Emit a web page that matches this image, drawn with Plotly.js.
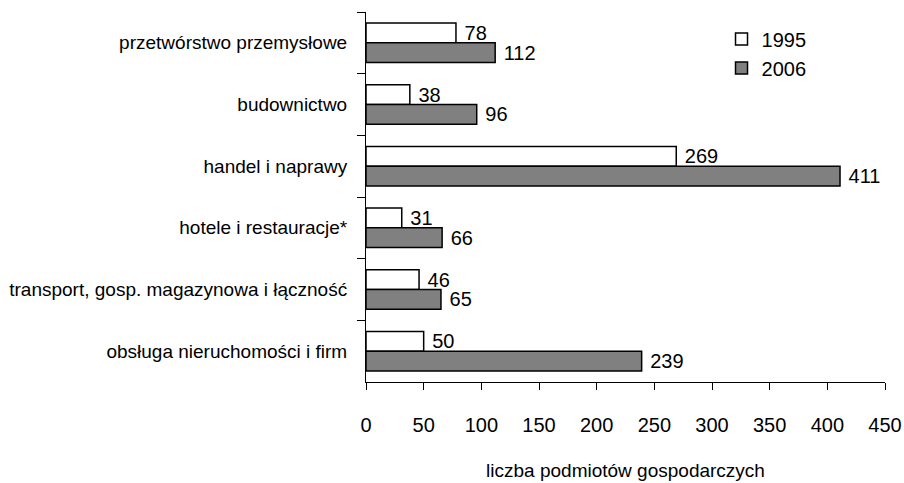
<!DOCTYPE html>
<html>
<head>
<meta charset="utf-8">
<script src="https://cdn.plot.ly/plotly-3.0.1.min.js"></script>
<style>html,body{margin:0;padding:0;background:#fff;}#chart{width:904px;height:483px;}</style>
</head>
<body>
<div id="chart"></div>
<script>
const categories = [
  "przetwórstwo przemysłowe",
  "budownictwo",
  "handel i naprawy",
  "hotele i restauracje*",
  "transport, gosp. magazynowa i łączność",
  "obsługa nieruchomości i firm"
];
const values1995 = [78, 38, 269, 31, 46, 50];
const values2006 = [112, 96, 411, 66, 65, 239];
const seriesNames = ["1995", "2006"];
const xTicks = [0, 50, 100, 150, 200, 250, 300, 350, 400, 450];

const FONT = "'Liberation Sans', Arial, sans-serif";
const FS = 19;

const traces = [
  {
    type: "bar", orientation: "h", name: seriesNames[0],
    y: categories, x: values1995,
    texttemplate: " %{x}", textposition: "outside", constraintext: "none",
    textfont: {family: FONT, size: 20, color: "#000"},
    cliponaxis: false,
    marker: {color: "#ffffff", line: {color: "#000", width: 1.5}}
  },
  {
    type: "bar", orientation: "h", name: seriesNames[1],
    y: categories, x: values2006,
    texttemplate: " %{x}", textposition: "outside", constraintext: "none",
    textfont: {family: FONT, size: 20, color: "#000"},
    cliponaxis: false,
    marker: {color: "#808080", line: {color: "#000", width: 1.5}}
  }
];

const layout = {
  width: 904, height: 483,
  margin: {l: 366, r: 19, t: 12, b: 101, pad: 0},
  paper_bgcolor: "#fff", plot_bgcolor: "#fff",
  font: {family: FONT, size: FS, color: "#000"},
  barmode: "group", bargap: 0.36, bargroupgap: 0,
  showlegend: true,
  legend: {x: 0.685, y: 0.98, xanchor: "left", yanchor: "top", bgcolor: "rgba(0,0,0,0)",
           font: {family: FONT, size: 20}, itemwidth: 30, tracegroupgap: 0},
  xaxis: {
    range: [0, 450], tickvals: xTicks, ticktext: xTicks.map(String),
    showgrid: false, zeroline: false, showline: true, linecolor: "#000", linewidth: 1,
    ticks: "outside", ticklen: 7, tickcolor: "#000", ticklabelstandoff: 18,
    tickfont: {family: FONT, size: 20},
    title: {text: "liczba podmiotów gospodarczych", font: {family: FONT, size: FS}, standoff: 28}
  },
  yaxis: {
    type: "category", autorange: "reversed",
    showgrid: false, zeroline: false, showline: true, linecolor: "#000", linewidth: 1,
    ticks: "outside", ticklen: 8, tickcolor: "#000", tickson: "boundaries",
    ticklabelstandoff: 14,
    tickfont: {family: FONT, size: FS}
  }
};

Plotly.newPlot("chart", traces, layout, {displayModeBar: false, staticPlot: true});
</script>
</body>
</html>
